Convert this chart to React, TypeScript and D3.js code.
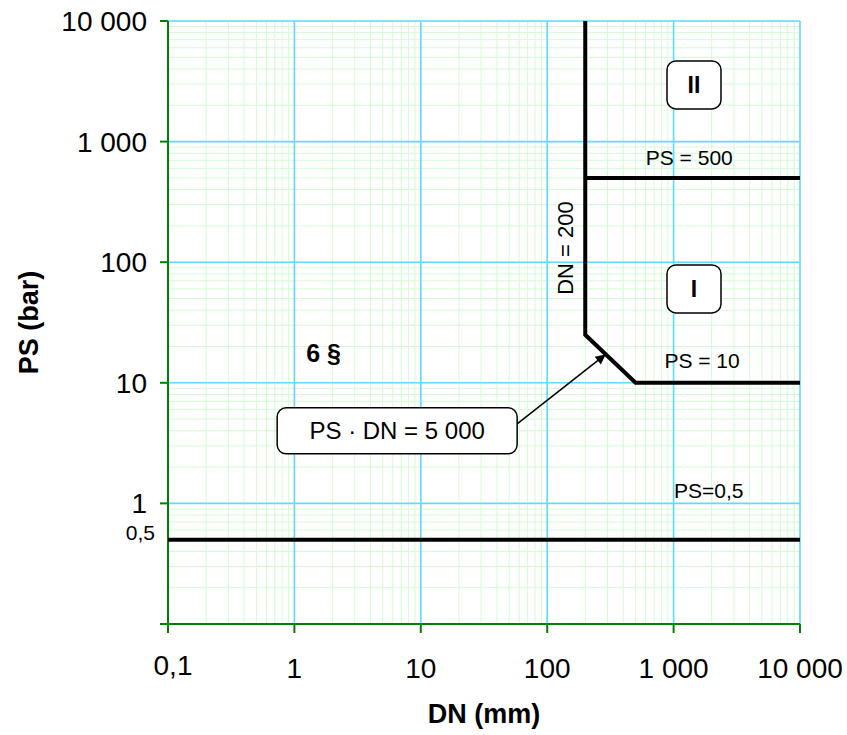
import * as d3 from "d3";

// axes
const dnTicks = [0.1, 1, 10, 100, 1000, 10000];
const dnTickLabels = ["0,1", "1", "10", "100", "1 000", "10 000"];
const psTicks = [1, 10, 100, 1000, 10000];
const psTickLabels = ["1", "10", "100", "1 000", "10 000"];

// category boundaries (DN mm, PS bar)
const boundaryDN = [200, 200, 500, 10000];
const boundaryPS = [10000, 25, 10, 10];
const ps500DN = [200, 10000];
const ps500PS = [500, 500];
const ps05DN = [0.1, 10000];
const ps05PS = [0.5, 0.5];

// annotations
const lineLabels = [
  { text: "PS = 500", dn: 1330, ps: 740 },
  { text: "PS = 10", dn: 1680, ps: 15.2 },
  { text: "PS=0,5", dn: 1900, ps: 1.27 },
];
const categoryBoxes = [
  { text: "II", dn: 1450, ps: 2950 },
  { text: "I", dn: 1450, ps: 60 },
];
const formulaBox = { text: "PS · DN = 5 000", dn: 6.5, ps: 4 };
const arrowTip = { dn: 290, ps: 17.2 };

const width = 847;
const height = 735;
const marginLeft = 168;
const marginRight = 47;
const marginTop = 21;
const marginBottom = 111;

const font = "'Liberation Sans', Arial, sans-serif";

export default function App() {
  const x = d3.scaleLog([0.1, 10000], [marginLeft, width - marginRight]);
  const y = d3.scaleLog([0.1, 10000], [height - marginBottom, marginTop]);
  const minor = x.ticks();
  const minorY = y.ticks();
  const line = d3
    .line<[number, number]>()
    .x((d) => x(d[0]))
    .y((d) => y(d[1]));
  const zip = (a: number[], b: number[]) =>
    a.map((v, i) => [v, b[i]] as [number, number]);

  const x0 = marginLeft;
  const x1 = width - marginRight;
  const y0 = height - marginBottom;
  const y1 = marginTop;

  const fbx = x(formulaBox.dn);
  const fby = y(formulaBox.ps);
  const tipX = x(arrowTip.dn);
  const tipY = y(arrowTip.ps);

  return (
    <svg
      width={width}
      height={height}
      style={{ position: "absolute", left: 0, top: 0, fontFamily: font }}
    >
      <defs>
        <marker
          id="arrow"
          viewBox="0 0 10 10"
          refX="10"
          refY="5"
          markerWidth="14"
          markerHeight="10"
          markerUnits="userSpaceOnUse"
          orient="auto"
        >
          <path d="M0,0 L10,5 L0,10 z" fill="black" />
        </marker>
      </defs>
      {/* minor grid */}
      <g stroke="#d4fbd4" strokeWidth={1}>
        {minor.map((d, i) => (
          <line key={"mx" + i} x1={x(d)} x2={x(d)} y1={y1} y2={y0} />
        ))}
        {minorY.map((d, i) => (
          <line key={"my" + i} x1={x0} x2={x1} y1={y(d)} y2={y(d)} />
        ))}
      </g>
      {/* major grid */}
      <g stroke="#5fdcfb" strokeWidth={1.6}>
        {dnTicks.map((d) => (
          <line key={"Mx" + d} x1={x(d)} x2={x(d)} y1={y1} y2={y0} />
        ))}
        {psTicks.map((d) => (
          <line key={"My" + d} x1={x0} x2={x1} y1={y(d)} y2={y(d)} />
        ))}
      </g>
      {/* axes */}
      <g stroke="#008000" strokeWidth={2}>
        <line x1={x0} x2={x0} y1={y1} y2={y0} />
        <line x1={x0 - 8} x2={x1} y1={y0} y2={y0} />
        {psTicks.map((d) => (
          <line key={"ty" + d} x1={x0 - 8} x2={x0} y1={y(d)} y2={y(d)} />
        ))}
        {dnTicks.map((d) => (
          <line key={"tx" + d} x1={x(d)} x2={x(d)} y1={y0} y2={y0 + 9} />
        ))}
      </g>
      {/* tick labels */}
      <g fontSize={28} fill="black">
        {psTicks.map((d, i) => (
          <text key={"ly" + d} x={x0 - 21} y={y(d)} dy="0.36em" textAnchor="end">
            {psTickLabels[i]}
          </text>
        ))}
        {dnTicks.map((d, i) => (
          <text
            key={"lx" + d}
            x={x(d) + (i === 0 ? 5 : 0)}
            y={y0 + (i === 0 ? 51 : 54)}
            textAnchor="middle"
          >
            {dnTickLabels[i]}
          </text>
        ))}
      </g>
      <text x={x0 - 13} y={y(0.5)} textAnchor="end" fontSize={21}>
        0,5
      </text>
      {/* axis titles */}
      <text
        transform={`translate(38,${(y0 + y1) / 2}) rotate(-90)`}
        textAnchor="middle"
        fontSize={27}
        fontWeight="bold"
      >
        PS (bar)
      </text>
      <text
        x={(x0 + x1) / 2}
        y={y0 + 99}
        textAnchor="middle"
        fontSize={27}
        fontWeight="bold"
      >
        DN (mm)
      </text>
      {/* boundaries */}
      <g fill="none" stroke="black" strokeWidth={4}>
        <path d={line(zip(boundaryDN, boundaryPS)) || undefined} />
        <path d={line(zip(ps500DN, ps500PS)) || undefined} />
        <path d={line(zip(ps05DN, ps05PS)) || undefined} />
      </g>
      {lineLabels.map((l) => (
        <text
          key={l.text}
          x={x(l.dn)}
          y={y(l.ps)}
          dy="0.35em"
          textAnchor="middle"
          fontSize={21}
        >
          {l.text}
        </text>
      ))}
      <text
        transform={`translate(${x(138)},${y(131)}) rotate(-90)`}
        dy="0.35em"
        textAnchor="middle"
        fontSize={22}
      >
        DN = 200
      </text>
      {categoryBoxes.map((b) => (
        <g key={b.text} transform={`translate(${x(b.dn)},${y(b.ps)})`}>
          <rect
            x={-27}
            y={-24}
            width={54}
            height={48}
            rx={9}
            fill="white"
            stroke="black"
            strokeWidth={1.5}
          />
          <text dy="0.36em" textAnchor="middle" fontSize={23} fontWeight="bold">
            {b.text}
          </text>
        </g>
      ))}
      <text
        x={x(1.7)}
        y={y(17.5)}
        dy="0.36em"
        textAnchor="middle"
        fontSize={25}
        fontWeight="bold"
      >
        6 §
      </text>
      <line
        x1={fbx + 120}
        y1={fby - 7}
        x2={tipX}
        y2={tipY}
        stroke="black"
        strokeWidth={1.5}
        markerEnd="url(#arrow)"
      />
      <g transform={`translate(${fbx},${fby})`}>
        <rect
          x={-120}
          y={-23}
          width={240}
          height={46}
          rx={9}
          fill="white"
          stroke="black"
          strokeWidth={1.5}
        />
        <text dy="0.36em" textAnchor="middle" fontSize={24}>
          {formulaBox.text}
        </text>
      </g>
    </svg>
  );
}
